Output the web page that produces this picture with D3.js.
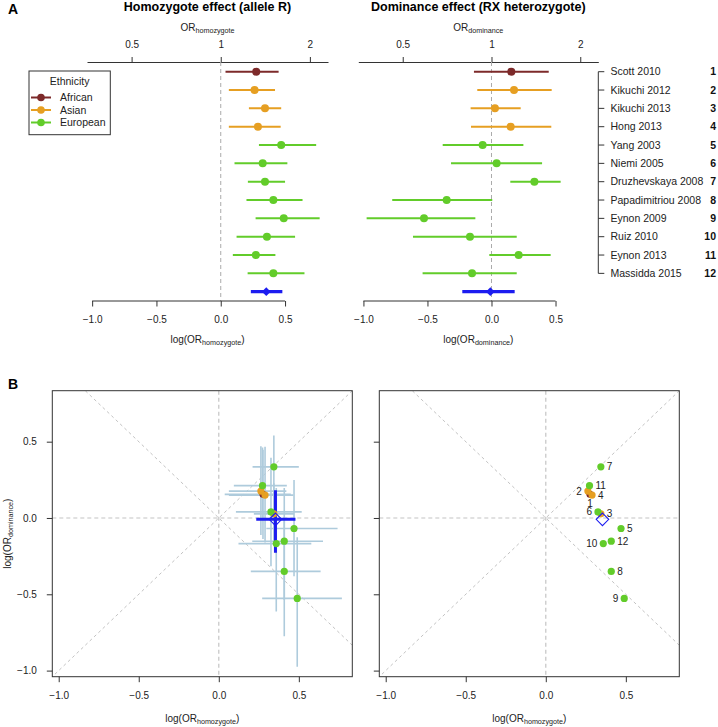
<!DOCTYPE html>
<html><head><meta charset="utf-8">
<script src="https://cdn.jsdelivr.net/npm/d3@7"></script>
<style>
body{margin:0;background:#fff;}
svg{display:block;font-family:"Liberation Sans",Arial,Helvetica,sans-serif;}
</style></head>
<body><svg id="c" width="718" height="727"></svg>
<script>
// ---------------- data ----------------
const studies = ["Scott 2010","Kikuchi 2012","Kikuchi 2013","Hong 2013","Yang 2003","Niemi 2005","Druzhevskaya 2008","Papadimitriou 2008","Eynon 2009","Ruiz 2010","Eynon 2013","Massidda 2015"];
const studyIds = ["1","2","3","4","5","6","7","8","9","10","11","12"];
const ethnicity = ["African","Asian","Asian","Asian","European","European","European","European","European","European","European","European"];
const ethnicities = ["African","Asian","European"];
// log(OR homozygote)
const homEst = [0.276,0.263,0.344,0.289,0.470,0.326,0.344,0.409,0.490,0.359,0.273,0.409];
const homLo  = [0.037,0.063,0.219,0.063,0.297,0.107,0.211,0.200,0.271,0.123,0.094,0.209];
const homHi  = [0.450,0.422,0.470,0.466,0.742,0.518,0.500,0.636,0.769,0.578,0.425,0.651];
// log(OR dominance)
const domEst = [0.155,0.176,0.027,0.150,-0.069,0.040,0.335,-0.350,-0.527,-0.168,0.212,-0.152];
const domLo  = [-0.137,-0.111,-0.163,-0.160,-0.381,-0.316,0.147,-0.775,-0.975,-0.613,-0.017,-0.538];
const domHi  = [0.447,0.470,0.228,0.467,0.249,0.395,0.540,0.006,-0.126,0.197,0.462,0.197];
// pooled estimates [estimate, lower, upper]
const pooledHom = [0.354,0.234,0.479];
const pooledDom = [-0.009,-0.228,0.181];
// axis ticks
const orTicks = [0.5,1,2];
const logTicksA = [-1,-0.5,0,0.5];
const logTicksB = [-1,-0.5,0,0.5];
const labelSide = ["below","left","right","right","right","left","right","right","left","left","right","right"];

// ---------------- styles ----------------
const colors = {African:"#7d2a2a",Asian:"#e69f22",European:"#62cc2a"};
const blue = "#1c1cf0";
const errBlue = "#aecbdc";
const svg = d3.select("#c");
const idx = d3.range(studies.length);

function sub(textSel, main, subscript, tail){
  textSel.append("tspan").text(main);
  textSel.append("tspan").attr("font-size","0.72em").attr("dy","0.28em").text(subscript);
  if(tail) textSel.append("tspan").attr("dy","-0.2em").text(tail);
}

// ---------------- Panel A ----------------
const yRow = d3.scaleLinear().domain([1,13]).range([71.7,291.7]);
const logDomain = [-1.04,0.834];

function forest(x0,x1,est,lo,hi,pooled,title,subName){
  const x = d3.scaleLinear().domain(logDomain).range([x0,x1]);
  const g = svg.append("g");
  const cx = (x0+x1)/2;
  g.append("text").attr("x",cx).attr("y",10.7).attr("text-anchor","middle")
    .attr("font-weight","bold").attr("font-size",12.5).text(title);
  // top OR axis
  const top = g.append("g").attr("transform","translate(0,62)")
    .call(d3.axisTop(x).tickValues(orTicks.map(Math.log)).tickFormat((d,i)=>String(orTicks[i]))
      .tickSize(5).tickSizeOuter(0).tickPadding(9));
  top.selectAll("text").attr("font-size",10).attr("fill","#222");
  top.selectAll("path,line").attr("stroke","#333");
  const t1 = g.append("text").attr("x",cx).attr("y",31).attr("text-anchor","middle").attr("font-size",10).attr("fill","#222");
  sub(t1,"OR",subName);
  // zero reference
  g.append("line").attr("x1",x(0)).attr("x2",x(0)).attr("y1",62).attr("y2",301)
    .attr("stroke","#aaa").attr("stroke-dasharray","4,3");
  // bottom log axis
  const bot = g.append("g").attr("transform","translate(0,301)")
    .call(d3.axisBottom(x).tickValues(logTicksA).tickFormat(d3.format(".1f")).tickSize(5.5).tickPadding(9));
  bot.select(".domain").remove();
  bot.append("line").attr("x1",x(logTicksA[0])).attr("x2",x(logTicksA[logTicksA.length-1])).attr("stroke","#333");
  bot.selectAll("text").attr("font-size",10).attr("fill","#222");
  bot.selectAll("line").attr("stroke","#333");
  const t2 = g.append("text").attr("x",cx).attr("y",343).attr("text-anchor","middle").attr("font-size",10).attr("fill","#222");
  sub(t2,"log(OR",subName,")");
  // rows
  idx.forEach(i=>{
    const y = yRow(i+1), c = colors[ethnicity[i]];
    g.append("line").attr("x1",x(lo[i])).attr("x2",x(hi[i])).attr("y1",y).attr("y2",y).attr("stroke",c).attr("stroke-width",2);
    g.append("circle").attr("cx",x(est[i])).attr("cy",y).attr("r",4).attr("fill",c);
  });
  const yp = yRow(13);
  g.append("line").attr("x1",x(pooled[1])).attr("x2",x(pooled[2])).attr("y1",yp).attr("y2",yp).attr("stroke",blue).attr("stroke-width",3.2);
  g.append("path").attr("d",d3.symbol(d3.symbolDiamond2,48)()).attr("transform",`translate(${x(pooled[0])},${yp})`).attr("fill",blue);
  return x;
}
forest(87,328,homEst,homLo,homHi,pooledHom,"Homozygote effect (allele R)","homozygote");
forest(358.3,598.3,domEst,domLo,domHi,pooledDom,"Dominance effect (RX heterozygote)","dominance");

svg.append("text").attr("x",8).attr("y",13.5).attr("font-weight","bold").attr("font-size",14).text("A");

// study labels with bracket axis
const lab = svg.append("g");
lab.append("line").attr("x1",598.3).attr("x2",598.3).attr("y1",yRow(1)).attr("y2",yRow(12)).attr("stroke","#333");
idx.forEach(i=>{
  const y = yRow(i+1);
  lab.append("line").attr("x1",598.3).attr("x2",604.3).attr("y1",y).attr("y2",y).attr("stroke","#333");
  lab.append("text").attr("x",610.5).attr("y",y).attr("dy","0.36em").attr("font-size",10.5).attr("fill","#222").text(studies[i]);
  lab.append("text").attr("x",716).attr("y",y).attr("dy","0.36em").attr("text-anchor","end").attr("font-weight","bold").attr("font-size",10.5).attr("fill","#111").text(studyIds[i]);
});

// legend
const lg = svg.append("g");
lg.append("rect").attr("x",29).attr("y",71).attr("width",81.3).attr("height",63.7).attr("fill","#fff").attr("stroke","#333");
lg.append("text").attr("x",69.6).attr("y",81.5).attr("dy","0.36em").attr("text-anchor","middle").attr("font-size",10.5).attr("fill","#222").text("Ethnicity");
const legY = d3.scalePoint().domain(ethnicities).range([97.5,122.5]);
ethnicities.forEach(e=>{
  const y = legY(e);
  lg.append("line").attr("x1",31).attr("x2",51).attr("y1",y).attr("y2",y).attr("stroke",colors[e]).attr("stroke-width",2);
  lg.append("circle").attr("cx",41).attr("cy",y).attr("r",3.8).attr("fill",colors[e]);
  lg.append("text").attr("x",60).attr("y",y).attr("dy","0.36em").attr("font-size",10.5).attr("fill","#222").text(e);
});

// ---------------- Panel B ----------------
svg.append("text").attr("x",8).attr("y",389).attr("font-weight","bold").attr("font-size",14).text("B");
const bTop = 390.7, bBot = 676.7;

function scatterBox(x0,withErr,withYLabels,id){
  const x = d3.scaleLinear().domain(logDomain).range([x0,x0+300]);
  const y = d3.scaleLinear().domain(logDomain).range([bBot,bTop]);
  const g = svg.append("g");
  g.append("clipPath").attr("id",id).append("rect").attr("x",x0).attr("y",bTop).attr("width",300).attr("height",bBot-bTop);
  const gc = g.append("g").attr("clip-path",`url(#${id})`);
  const ext = [-2,2];
  gc.append("line").attr("x1",x(ext[0])).attr("y1",y(ext[0])).attr("x2",x(ext[1])).attr("y2",y(ext[1])).attr("stroke","#bbb").attr("stroke-dasharray","3,3").attr("stroke-width",0.9);
  gc.append("line").attr("x1",x(ext[0])).attr("y1",y(-ext[0])).attr("x2",x(ext[1])).attr("y2",y(-ext[1])).attr("stroke","#bbb").attr("stroke-dasharray","3,3").attr("stroke-width",0.9);
  gc.append("line").attr("x1",x(0)).attr("x2",x(0)).attr("y1",bTop).attr("y2",bBot).attr("stroke","#c4c4c4").attr("stroke-dasharray","4,3").attr("stroke-width",1.2);
  gc.append("line").attr("y1",y(0)).attr("y2",y(0)).attr("x1",x0).attr("x2",x0+300).attr("stroke","#c4c4c4").attr("stroke-dasharray","4,3").attr("stroke-width",1.2);
  if(withErr){
    idx.forEach(i=>{
      gc.append("line").attr("x1",x(homLo[i])).attr("x2",x(homHi[i])).attr("y1",y(domEst[i])).attr("y2",y(domEst[i])).attr("stroke",errBlue).attr("stroke-width",1.6);
      gc.append("line").attr("x1",x(homEst[i])).attr("x2",x(homEst[i])).attr("y1",y(domLo[i])).attr("y2",y(domHi[i])).attr("stroke",errBlue).attr("stroke-width",1.6);
    });
    gc.append("line").attr("x1",x(pooledHom[1])).attr("x2",x(pooledHom[2])).attr("y1",y(pooledDom[0])).attr("y2",y(pooledDom[0])).attr("stroke",blue).attr("stroke-width",3);
    gc.append("line").attr("x1",x(pooledHom[0])).attr("x2",x(pooledHom[0])).attr("y1",y(pooledDom[1])).attr("y2",y(pooledDom[2])).attr("stroke",blue).attr("stroke-width",3);
  }
  idx.forEach(i=>{
    gc.append("circle").attr("cx",x(homEst[i])).attr("cy",y(domEst[i])).attr("r",3.6).attr("fill",colors[ethnicity[i]]);
  });
  gc.append("path").attr("d",d3.symbol(d3.symbolDiamond2,100)()).attr("transform",`translate(${x(pooledHom[0])},${y(pooledDom[0])})`)
    .attr("fill","none").attr("stroke",blue).attr("stroke-width",1.1);
  if(!withErr){
    idx.forEach(i=>{
      const px = x(homEst[i]), py = y(domEst[i]), s = labelSide[i];
      const t = g.append("text").attr("font-size",10).attr("fill","#222").text(studyIds[i]);
      if(s==="right") t.attr("x",px+6).attr("y",py).attr("dy","0.36em");
      else if(s==="left") t.attr("x",px-6).attr("y",py).attr("dy","0.36em").attr("text-anchor","end");
      else t.attr("x",px).attr("y",py+9).attr("dy","0.36em").attr("text-anchor","middle");
    });
  }
  g.append("rect").attr("x",x0).attr("y",bTop).attr("width",300).attr("height",bBot-bTop).attr("fill","none").attr("stroke","#333");
  const xa = g.append("g").attr("transform",`translate(0,${bBot})`)
    .call(d3.axisBottom(x).tickValues(logTicksB).tickFormat(d3.format(".1f")).tickSize(5.5).tickPadding(9.5));
  xa.select(".domain").remove();
  xa.selectAll("text").attr("font-size",10).attr("fill","#222");
  xa.selectAll("line").attr("stroke","#333");
  const ya = g.append("g").attr("transform",`translate(${x0},0)`)
    .call(d3.axisLeft(y).tickValues(logTicksB).tickFormat(withYLabels?d3.format(".1f"):()=>"").tickSize(5.5).tickPadding(10));
  ya.select(".domain").remove();
  ya.selectAll("text").attr("font-size",10).attr("fill","#222");
  ya.selectAll("line").attr("stroke","#333");
  const xl = g.append("text").attr("x",x0+150).attr("y",722).attr("text-anchor","middle").attr("font-size",10).attr("fill","#222");
  sub(xl,"log(OR","homozygote",")");
  if(withYLabels){
    const yl = g.append("text").attr("transform",`translate(11,${(bTop+bBot)/2}) rotate(-90)`).attr("text-anchor","middle").attr("font-size",10).attr("fill","#222");
    sub(yl,"log(OR","dominance",")");
  }
}
scatterBox(52.3,true,true,"clipL");
scatterBox(379.3,false,false,"clipR");
</script></body></html>
